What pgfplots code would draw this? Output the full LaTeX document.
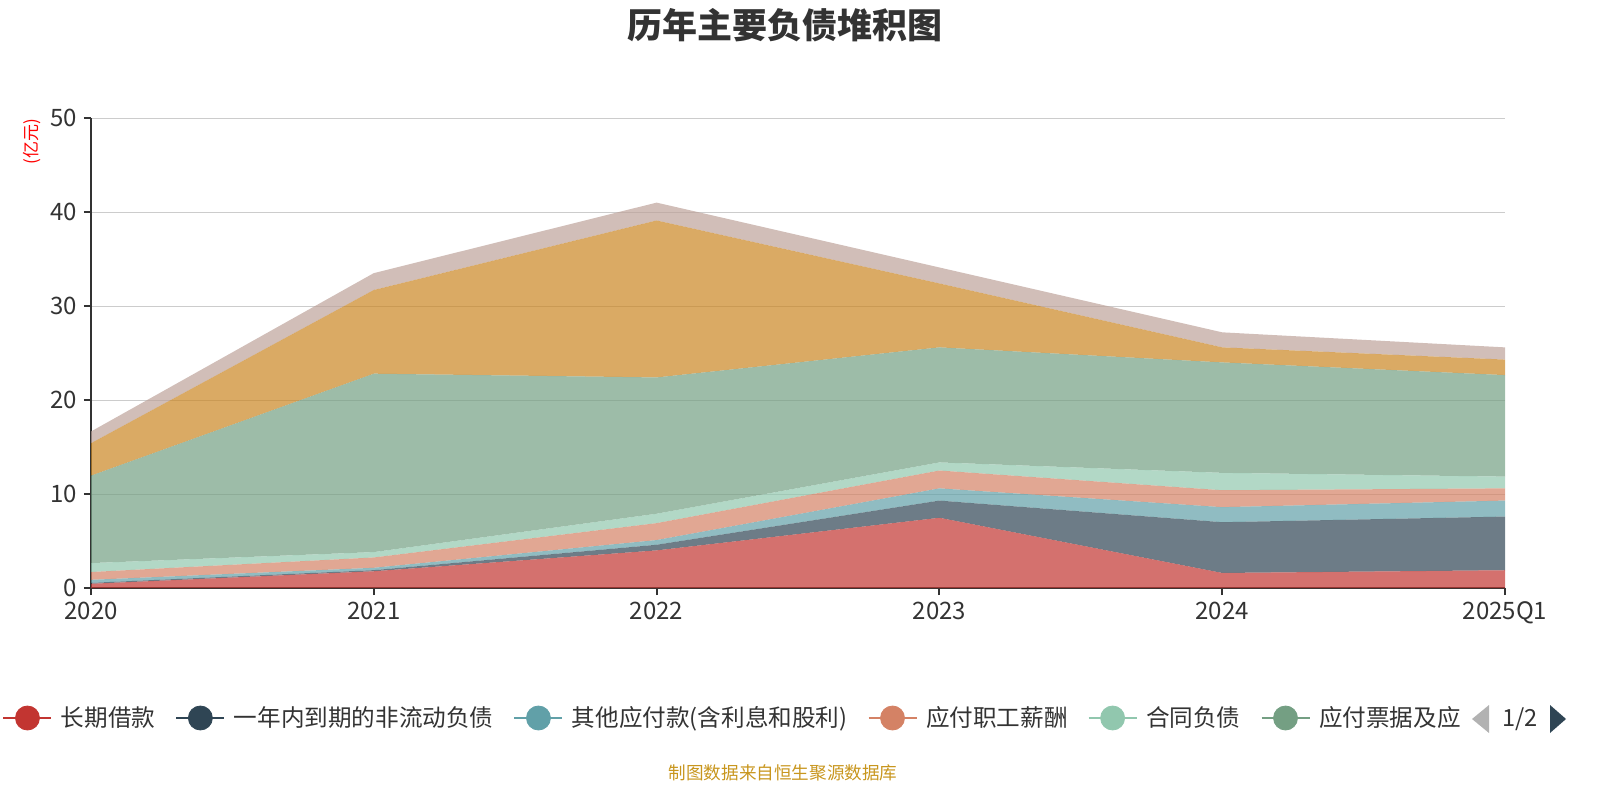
\documentclass[border=0pt]{standalone}
\usepackage{pgfplots}
\pgfplotsset{compat=1.18}
\usepackage{fontspec}
\setmainfont{Noto Sans CJK SC}
\definecolor{c1}{HTML}{C23531}
\definecolor{c2}{HTML}{2F4554}
\definecolor{c3}{HTML}{61A0A8}
\definecolor{c4}{HTML}{D48265}
\definecolor{c5}{HTML}{91C7AE}
\definecolor{c6}{HTML}{749F83}
\definecolor{c7}{HTML}{CA8622}
\definecolor{c8}{HTML}{BDA29A}
\definecolor{axisc}{HTML}{333333}
\definecolor{gridc}{HTML}{CCCCCC}
\definecolor{labc}{HTML}{333333}
\definecolor{srcc}{HTML}{C8961E}
\newcommand{\legimg}[1]{\addlegendimage{legend image code/.code={\draw[#1,line width=1pt] (0pt,0pt)--(24pt,0pt); \fill[#1] (12pt,0pt) circle (6pt);}}}
\begin{document}
\begin{tikzpicture}
\begin{axis}[
  at={(45.5pt,106pt)}, anchor=south west,
  scale only axis, width=707pt, height=235pt,
  xmin=0, xmax=5, ymin=0, ymax=50,
  xtick={0,1,2,3,4,5},
  xticklabels={2020,2021,2022,2023,2024,2025Q1},
  ytick={0,10,20,30,40,50},
  axis lines=left,
  axis line style={draw=axisc, line width=1pt, -},
  ymajorgrids, grid style={gridc, line width=0.5pt},
  tick align=outside, major tick length=3.5pt,
  tick style={axisc, line width=1pt},
  ticklabel style={font=\fontsize{12}{14}\selectfont, text=labc},
  /pgf/number format/assume math mode=true,
  stack plots=y,
  legend columns=6,
  legend style={at={(axis description cs:-0.0629,-0.2766)}, anchor=west,
    draw=none, fill=none, inner sep=0pt,
    font=\fontsize{11.8}{14}\selectfont, text=labc,
    nodes={inner sep=0pt},
    /tikz/every even column/.append style={column sep=10pt},
    /tikz/every odd column/.append style={column sep=4.25pt}},
]
\legimg{c1}\addlegendentry{长期借款}
\legimg{c2}\addlegendentry{一年内到期的非流动负债}
\legimg{c3}\addlegendentry{其他应付款(含利息和股利)}
\legimg{c4}\addlegendentry{应付职工薪酬}
\legimg{c5}\addlegendentry{合同负债}
\legimg{c6}\addlegendentry{应付票据及应}
\addplot[fill=c1, draw=none, fill opacity=0.7, forget plot] coordinates {(0,0.45) (1,1.78) (2,4.0) (3,7.47) (4,1.6) (5,1.89)} \closedcycle;
\addplot[fill=c2, draw=none, fill opacity=0.7, forget plot] coordinates {(0,0.10) (1,0.12) (2,0.6) (3,1.83) (4,5.4) (5,5.71)} \closedcycle;
\addplot[fill=c3, draw=none, fill opacity=0.7, forget plot] coordinates {(0,0.32) (1,0.25) (2,0.5) (3,1.3) (4,1.6) (5,1.7)} \closedcycle;
\addplot[fill=c4, draw=none, fill opacity=0.7, forget plot] coordinates {(0,0.83) (1,1.1) (2,1.8) (3,1.9) (4,1.8) (5,1.3)} \closedcycle;
\addplot[fill=c5, draw=none, fill opacity=0.7, forget plot] coordinates {(0,0.95) (1,0.57) (2,1.0) (3,0.86) (4,1.85) (5,1.25)} \closedcycle;
\addplot[fill=c6, draw=none, fill opacity=0.7, forget plot] coordinates {(0,9.3) (1,18.98) (2,14.5) (3,12.24) (4,11.75) (5,10.8)} \closedcycle;
\addplot[fill=c7, draw=none, fill opacity=0.7, forget plot] coordinates {(0,3.45) (1,8.9) (2,16.7) (3,6.8) (4,1.6) (5,1.65)} \closedcycle;
\addplot[fill=c8, draw=none, fill opacity=0.7, forget plot] coordinates {(0,1.25) (1,1.8) (2,1.9) (3,1.7) (4,1.6) (5,1.3)} \closedcycle;
\end{axis}
\node[font=\fontsize{17.5}{20}\selectfont\bfseries, text=labc] at (392.5pt,387.5pt) {历年主要负债堆积图};
\node[rotate=90, font=\fontsize{8.5}{10}\selectfont, text=red] at (16pt,329pt) {(亿元)};
\node[font=\fontsize{8.8}{10}\selectfont, text=srcc] at (391.5pt,13.5pt) {制图数据来自恒生聚源数据库};
\fill[gray!60] (736pt,40.5pt) -- (744.5pt,47.5pt) -- (744.5pt,33.5pt) -- cycle;
\node[font=\fontsize{11.8}{14}\selectfont, text=labc] at (760pt,40.5pt) {1/2};
\fill[c2] (783pt,40.5pt) -- (775pt,47.5pt) -- (775pt,33.5pt) -- cycle;
\pgfresetboundingbox
\path[use as bounding box] (0pt,0pt) rectangle (800pt,400pt);
\end{tikzpicture}
\end{document}
